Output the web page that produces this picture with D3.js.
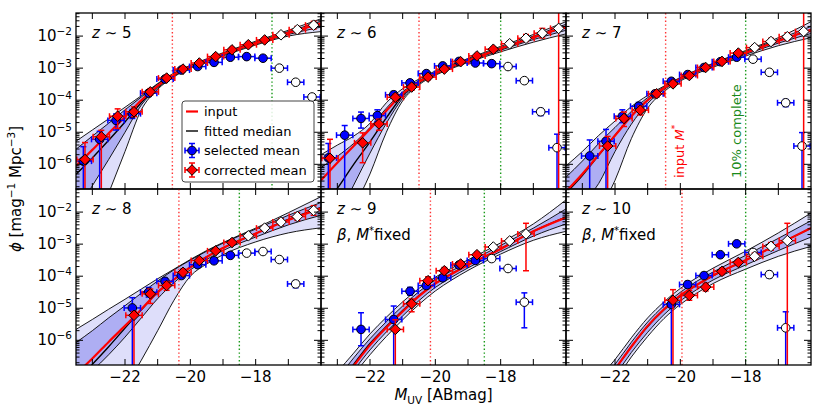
<!DOCTYPE html>
<html lang="en">
<head>
<meta charset="UTF-8">
<script src="https://d3js.org/d3.v7.min.js"></script>
<title>UV luminosity functions z~5-10</title>
<style>
  body { margin: 0; background: #fff; }
  svg text { font-family: "DejaVu Sans", sans-serif; }
</style>
</head>
<body>
<script>
// ---- data (log10 phi) ----
const zLabels = ["5", "6", "7", "8", "9", "10"];
const fixedNote = [false, false, false, false, true, true];
const inputMstar = [-20.55, -20.5, -20.45, -20.35, -20.15, -19.95];
const completeMag = [-17.5, -18, -18, -18.5, -18.5, -18];

const mGrid = [-23.5, -23, -22.5, -22, -21.5, -21, -20.5, -20, -19.5, -19, -18, -17, -16];

const inputLF = [
  [-6.05, -5.55, -5.03, -4.52, -4.0, -3.55, -3.2, -2.95, -2.75, -2.56, -2.22, -1.9, -1.6],
  [-6.5, -5.95, -5.43, -4.9, -4.33, -3.8, -3.43, -3.16, -2.95, -2.76, -2.39, -2.04, -1.7],
  [-6.85, -6.3, -5.7, -5.1, -4.5, -4.0, -3.62, -3.33, -3.1, -2.9, -2.52, -2.15, -1.8],
  [-7.05, -6.57, -6.05, -5.55, -5.03, -4.5, -4.1, -3.72, -3.4, -3.12, -2.67, -2.25, -1.88],
  [-8.2, -7.45, -6.8, -6.15, -5.6, -5.1, -4.62, -4.23, -3.93, -3.65, -3.15, -2.6, -2.17],
  [-8.9, -8.2, -7.55, -6.9, -6.2, -5.55, -5.03, -4.6, -4.27, -3.98, -3.5, -3.0, -2.5]
];
const medianLF = [
  [-6.31, -5.8, -5.25, -4.68, -4.07, -3.57, -3.21, -2.95, -2.75, -2.56, -2.22, -1.9, -1.62],
  [-7.4, -6.75, -6.0, -5.3, -4.55, -3.86, -3.44, -3.16, -2.95, -2.76, -2.4, -2.05, -1.72],
  [-6.9, -6.35, -5.72, -5.1, -4.5, -4.0, -3.62, -3.33, -3.1, -2.9, -2.52, -2.15, -1.8],
  [-7.3, -6.75, -6.2, -5.62, -5.05, -4.5, -4.1, -3.72, -3.4, -3.12, -2.67, -2.23, -1.85],
  [-8.1, -7.4, -6.75, -6.1, -5.57, -5.07, -4.6, -4.22, -3.92, -3.65, -3.14, -2.6, -2.15],
  [-8.9, -8.2, -7.55, -6.9, -6.2, -5.57, -5.05, -4.62, -4.28, -3.99, -3.5, -3.0, -2.5]
];
const hi1LF = [
  [-5.53, -5.12, -4.72, -4.3, -3.9, -3.5, -3.17, -2.93, -2.73, -2.54, -2.19, -1.86, -1.54],
  [-6.1, -5.75, -5.35, -4.85, -4.25, -3.74, -3.39, -3.13, -2.92, -2.73, -2.36, -2.0, -1.63],
  [-6.4, -5.9, -5.35, -4.85, -4.35, -3.92, -3.59, -3.31, -3.08, -2.87, -2.48, -2.1, -1.7],
  [-6.07, -5.7, -5.3, -4.92, -4.53, -4.15, -3.8, -3.5, -3.22, -2.97, -2.53, -2.1, -1.7],
  [-7.9, -7.2, -6.55, -5.95, -5.42, -4.93, -4.48, -4.12, -3.83, -3.57, -3.04, -2.5, -1.9],
  [-8.7, -8.0, -7.35, -6.75, -6.06, -5.43, -4.92, -4.5, -4.16, -3.87, -3.35, -2.82, -2.27]
];
const hi2LF = [
  [-5.28, -4.93, -4.58, -4.22, -3.86, -3.48, -3.15, -2.91, -2.71, -2.52, -2.16, -1.82, -1.46],
  [-5.7, -5.4, -5.12, -4.72, -4.08, -3.64, -3.34, -3.09, -2.89, -2.7, -2.32, -1.95, -1.55],
  [-6.05, -5.6, -5.1, -4.65, -4.2, -3.85, -3.56, -3.29, -3.06, -2.85, -2.45, -2.05, -1.55],
  [-5.66, -5.35, -5.03, -4.72, -4.4, -4.08, -3.78, -3.48, -3.2, -2.95, -2.5, -2.02, -1.52],
  [-7.7, -7.0, -6.4, -5.8, -5.28, -4.8, -4.38, -4.03, -3.75, -3.49, -2.96, -2.37, -1.62],
  [-8.5, -7.85, -7.2, -6.6, -5.92, -5.3, -4.8, -4.38, -4.05, -3.75, -3.22, -2.65, -2.03]
];
const lo1LF = [
  [-7.5, -6.67, -5.85, -5.0, -4.15, -3.62, -3.24, -2.98, -2.78, -2.59, -2.25, -1.95, -1.72],
  [-9.0, -7.7, -6.65, -5.65, -4.72, -3.94, -3.48, -3.19, -2.98, -2.79, -2.44, -2.11, -1.82],
  [-8.0, -7.25, -6.6, -5.6, -4.75, -4.1, -3.67, -3.36, -3.13, -2.93, -2.57, -2.22, -1.92],
  [-7.4, -6.95, -6.45, -5.9, -5.3, -4.7, -4.2, -3.8, -3.48, -3.2, -2.78, -2.4, -2.1],
  [-8.4, -7.7, -6.95, -6.3, -5.74, -5.24, -4.76, -4.35, -4.03, -3.74, -3.23, -2.75, -2.37],
  [-9.1, -8.4, -7.75, -7.1, -6.38, -5.75, -5.2, -4.77, -4.42, -4.12, -3.65, -3.2, -2.78]
];
const lo2LF = [
  [-9.45, -8.2, -6.9, -5.6, -4.3, -3.66, -3.27, -3.0, -2.8, -2.62, -2.28, -2.0, -1.86],
  [-10.0, -8.7, -7.4, -6.3, -5.0, -4.02, -3.52, -3.22, -3.01, -2.82, -2.49, -2.19, -1.93],
  [-9.5, -8.5, -7.5, -6.5, -5.2, -4.25, -3.73, -3.4, -3.17, -2.97, -2.62, -2.3, -2.05],
  [-11.0, -9.5, -8.4, -7.5, -6.62, -5.7, -4.75, -4.0, -3.62, -3.33, -2.93, -2.65, -2.49],
  [-8.7, -7.9, -7.1, -6.45, -5.88, -5.36, -4.88, -4.46, -4.12, -3.82, -3.31, -2.88, -2.6],
  [-9.3, -8.6, -7.9, -7.25, -6.52, -5.88, -5.32, -4.88, -4.53, -4.23, -3.78, -3.38, -3.07]
];

const binMag = [-23.25, -22.75, -22.25, -21.75, -21.25, -20.75, -20.25, -19.75,
                -19.25, -18.75, -18.25, -17.75, -17.25, -16.75, -16.25];

// selected mean (blue circles)
const selLF = [
  [-5.9, -5.22, -4.63, -4.42, -3.78, -3.34, -3.06, -2.95, -2.82, -2.66, -2.64, -2.69, -3.0, -3.44, -3.9],
  [-5.8, -5.09, -4.57, -4.48, -3.83, -3.46, -3.17, -2.93, -2.79, -2.84, -2.86, -2.95, -3.39, -4.36, -5.48],
  [null, -5.74, -5.28, -4.5, -4.19, -3.8, -3.41, -3.2, -2.98, -2.8, -2.66, -2.72, -3.13, -4.08, -5.43],
  [null, null, null, -4.99, -4.5, -4.16, -3.98, -3.64, -3.52, -3.35, -3.28, -3.23, -3.48, -4.24, null],
  [null, null, -5.66, null, -5.35, -4.47, -4.29, -4.05, -3.65, -3.51, -3.45, -3.76, -4.81, null, null],
  [null, null, null, null, null, null, -4.88, -4.26, -3.98, -3.33, -2.99, -3.26, -3.95, -5.61, null]
];
const selErrLo = [
  [9, 9, 0.3, 0.15, 0.1, 0.06, 0.05, 0.04, 0.04, 0.04, 0.04, 0.04, 0.05, 0.07, 0.09],
  [9, 9, 0.3, 0.18, 0.1, 0.07, 0.05, 0.05, 0.04, 0.04, 0.04, 0.05, 0.07, 0.12, 9],
  [0, 9, 9, 0.2, 0.12, 0.08, 0.06, 0.05, 0.04, 0.04, 0.04, 0.05, 0.07, 0.12, 9],
  [0, 0, 0, 9, 0.15, 0.1, 0.07, 0.06, 0.05, 0.05, 0.05, 0.05, 0.07, 0.12, 0],
  [0, 0, 0.51, 0, 9, 0.12, 0.1, 0.08, 0.07, 0.06, 0.06, 0.07, 0.8, 0, 0],
  [0, 0, 0, 0, 0, 0, 9, 0.1, 0.08, 0.06, 0.05, 0.07, 0.1, 9, 0]
];
const selErrHi = [
  [0.45, 0.25, 0.2, 0.13, 0.08, 0.06, 0.05, 0.04, 0.04, 0.04, 0.04, 0.04, 0.05, 0.06, 0.08],
  [0.45, 0.3, 0.2, 0.18, 0.1, 0.07, 0.05, 0.05, 0.04, 0.04, 0.04, 0.05, 0.06, 0.1, 0.42],
  [0, 0.5, 0.37, 0.2, 0.12, 0.08, 0.06, 0.05, 0.04, 0.04, 0.04, 0.05, 0.06, 0.1, 0.42],
  [0, 0, 0, 0.32, 0.15, 0.1, 0.07, 0.06, 0.05, 0.05, 0.05, 0.05, 0.06, 0.1, 0],
  [0, 0, 0.52, 0, 0.42, 0.12, 0.1, 0.08, 0.07, 0.06, 0.06, 0.07, 0.29, 0, 0],
  [0, 0, 0, 0, 0, 0, 0.12, 0.1, 0.08, 0.06, 0.05, 0.07, 0.1, 0.5, 0]
];

// corrected mean (red diamonds)
const corLF = [
  [-5.85, -5.14, -4.5, -4.36, -3.74, -3.31, -3.03, -2.84, -2.64, -2.43, -2.27, -2.12, -1.96, -1.8, -1.66],
  [-5.81, null, -5.33, -4.74, -3.91, -3.59, -3.28, -3.03, -2.8, -2.62, -2.41, -2.24, -2.07, -1.91, -1.76],
  [null, null, -5.43, -4.57, -4.31, -3.8, -3.49, -3.23, -2.98, -2.79, -2.53, -2.36, -2.17, -2.02, -1.86],
  [null, null, null, -5.22, -4.55, -4.29, -3.88, -3.51, -3.21, -2.95, -2.74, -2.5, -2.31, -2.14, -1.95],
  [null, null, null, null, -5.66, -4.86, -4.14, -3.83, -3.62, -3.33, -3.09, -2.9, -2.68, null, null],
  [null, null, null, null, null, null, -4.75, -4.6, -4.34, -3.85, -3.57, -3.38, -3.07, -2.89, null]
];
const corErrLo = [
  [9, 9, 0.38, 0.15, 0.1, 0.08, 0.07, 0.07, 0.07, 0.07, 0.07, 0.07, 0.08, 0.1, 0.12],
  [9, 0, 0.62, 0.2, 0.12, 0.1, 0.08, 0.07, 0.07, 0.07, 0.07, 0.08, 0.1, 0.15, 9],
  [0, 0, 9, 0.25, 0.15, 0.1, 0.08, 0.07, 0.07, 0.07, 0.07, 0.08, 0.1, 0.12, 9],
  [0, 0, 0, 9, 0.3, 0.15, 0.1, 0.08, 0.07, 0.07, 0.07, 0.08, 0.1, 0.12, 0.15],
  [0, 0, 0, 0, 9, 0.25, 0.12, 0.1, 0.08, 0.07, 0.07, 0.08, 1.15, 0, 0],
  [0, 0, 0, 0, 0, 0, 9, 0.15, 0.12, 0.1, 0.08, 0.1, 0.12, 9, 0]
];
const corErrHi = [
  [0.53, 0.2, 0.23, 0.15, 0.1, 0.08, 0.07, 0.07, 0.07, 0.07, 0.07, 0.07, 0.08, 0.1, 0.12],
  [0.59, 0, 0.31, 0.15, 0.1, 0.08, 0.07, 0.07, 0.07, 0.07, 0.07, 0.08, 0.12, 0.15, 0.5],
  [0, 0, 0.3, 0.2, 0.13, 0.1, 0.08, 0.07, 0.07, 0.07, 0.07, 0.08, 0.1, 0.12, 0.6],
  [0, 0, 0, 0.12, 0.15, 0.12, 0.1, 0.08, 0.07, 0.07, 0.07, 0.08, 0.1, 0.12, 0.15],
  [0, 0, 0, 0, 0.3, 0.15, 0.12, 0.1, 0.08, 0.07, 0.07, 0.08, 0.33, 0, 0],
  [0, 0, 0, 0, 0, 0, 0.33, 0.15, 0.12, 0.1, 0.08, 0.1, 0.12, 0.54, 0]
];

const xTickVals = [-23, -22, -21, -20, -19, -18, -17];
const xLabelVals = [-22, -20, -18];
const yLabelExps = [-2, -3, -4, -5, -6];

// ---- layout ----
const padLeft = 76, padTop = 13;
const pw = 245, ph = 176;
const binHalf = 0.25, dodge = 0.025;

const svg = d3.select("body").append("svg")
    .attr("width", 831)
    .attr("height", 412);

const x = d3.scaleLinear().domain([-23.5, -16]).range([0, pw]);
const y = d3.scaleLog().domain([Math.pow(10, -6.77), Math.pow(10, -1.28)]).range([ph, 0]);
const yl = v => y(Math.pow(10, v));

const lightBand = "#dedefa", darkBand = "#aeaef3";

function diamond(r) {
    return "M0," + (-r) + "L" + r + ",0L0," + r + "L" + (-r) + ",0Z";
}

zLabels.forEach(function(z, i) {
    const col = i % 3, row = Math.floor(i / 3);
    const g = svg.append("g")
        .attr("transform", "translate(" + (padLeft + col * pw) + "," + (padTop + row * ph) + ")");

    svg.append("clipPath").attr("id", "clip" + i)
        .append("rect").attr("width", pw).attr("height", ph);
    const c = g.append("g").attr("clip-path", "url(#clip" + i + ")");

    const band = (lo, hi) => d3.area()
        .x((d, k) => x(mGrid[k]))
        .y0((d, k) => yl(lo[k]))
        .y1((d, k) => yl(hi[k]))
        .curve(d3.curveMonotoneX);
    const line = arr => d3.line()
        .x((d, k) => x(mGrid[k]))
        .y((d, k) => yl(arr[k]))
        .curve(d3.curveMonotoneX);

    // bands
    c.append("path").datum(mGrid).attr("d", band(lo2LF[i], hi2LF[i])).attr("fill", lightBand);
    c.append("path").datum(mGrid).attr("d", band(lo1LF[i], hi1LF[i])).attr("fill", darkBand);
    [lo2LF[i], hi2LF[i], lo1LF[i], hi1LF[i]].forEach(function(arr) {
        c.append("path").datum(mGrid).attr("d", line(arr))
            .attr("fill", "none").attr("stroke", "#000").attr("stroke-width", 0.9);
    });
    c.append("path").datum(mGrid).attr("d", line(medianLF[i]))
        .attr("fill", "none").attr("stroke", "#000").attr("stroke-width", 1.4);
    c.append("path").datum(mGrid).attr("d", line(inputLF[i]))
        .attr("fill", "none").attr("stroke", "#ff0000").attr("stroke-width", 2.2);

    // M* and completeness
    c.append("line")
        .attr("x1", x(inputMstar[i])).attr("x2", x(inputMstar[i]))
        .attr("y1", 0).attr("y2", ph)
        .attr("stroke", "#ff3333").attr("stroke-width", 1.4).attr("stroke-dasharray", "1.4,2.4");
    c.append("line")
        .attr("x1", x(completeMag[i])).attr("x2", x(completeMag[i]))
        .attr("y1", 0).attr("y2", ph)
        .attr("stroke", "#1a9a1a").attr("stroke-width", 1.4).attr("stroke-dasharray", "1.4,2.4");

    // points with error bars
    function drawPoints(vals, eLo, eHi, off, color, isDiamond) {
        binMag.forEach(function(m, k) {
            const v = vals[k];
            if (v === null) return;
            const px = x(m + off), py = yl(v);
            const yTop = yl(v + eHi[k]), yBot = yl(v - eLo[k]);
            const xa = x(m + off - binHalf), xb = x(m + off + binHalf);
            const eb = c.append("g").attr("stroke", color).attr("stroke-width", 1.5);
            eb.append("line").attr("x1", px).attr("x2", px).attr("y1", yTop).attr("y2", yBot);
            eb.append("line").attr("x1", px - 3).attr("x2", px + 3).attr("y1", yTop).attr("y2", yTop);
            eb.append("line").attr("x1", px - 3).attr("x2", px + 3).attr("y1", yBot).attr("y2", yBot);
            eb.append("line").attr("x1", xa).attr("x2", xb).attr("y1", py).attr("y2", py);
            eb.append("line").attr("x1", xa).attr("x2", xa).attr("y1", py - 3).attr("y2", py + 3);
            eb.append("line").attr("x1", xb).attr("x2", xb).attr("y1", py - 3).attr("y2", py + 3);
            const open = m > completeMag[i];
            const fill = open ? "#fff" : color;
            if (isDiamond) {
                c.append("path").attr("d", diamond(5.3))
                    .attr("transform", "translate(" + px + "," + py + ")")
                    .attr("fill", fill).attr("stroke", "#000").attr("stroke-width", 1);
            } else {
                c.append("circle").attr("cx", px).attr("cy", py).attr("r", 4.3)
                    .attr("fill", fill).attr("stroke", "#000").attr("stroke-width", 1);
            }
        });
    }
    drawPoints(selLF[i], selErrLo[i], selErrHi[i], -dodge, "#0000ff", false);
    drawPoints(corLF[i], corErrLo[i], corErrHi[i], dodge, "#ff0000", true);

    // ticks
    const tk = g.append("g").attr("stroke", "#000").attr("stroke-width", 1);
    xTickVals.forEach(function(m) {
        tk.append("line").attr("x1", x(m)).attr("x2", x(m)).attr("y1", 0).attr("y2", 6);
        tk.append("line").attr("x1", x(m)).attr("x2", x(m)).attr("y1", ph).attr("y2", ph - 6);
    });
    y.ticks().forEach(function(t) {
        const lg = Math.log10(t);
        const major = Math.abs(lg - Math.round(lg)) < 1e-6;
        const len = major ? 7 : 3.5;
        tk.append("line").attr("x1", 0).attr("x2", len).attr("y1", y(t)).attr("y2", y(t));
        tk.append("line").attr("x1", pw).attr("x2", pw - len).attr("y1", y(t)).attr("y2", y(t));
    });
    g.append("rect").attr("width", pw).attr("height", ph)
        .attr("fill", "none").attr("stroke", "#000").attr("stroke-width", 1.3);

    // tick labels
    if (col === 0) {
        yLabelExps.forEach(function(e) {
            const t = g.append("text")
                .attr("x", -4).attr("y", yl(e) + 5)
                .attr("text-anchor", "end")
                .attr("font-size", 15);
            t.append("tspan").text("10");
            t.append("tspan").attr("dy", -6.5).attr("font-size", 10.5).text("\u2212" + Math.abs(e));
        });
    }
    if (row === 1) {
        xLabelVals.forEach(function(m) {
            g.append("text")
                .attr("x", x(m)).attr("y", ph + 17)
                .attr("text-anchor", "middle")
                .attr("font-size", 15)
                .text("\u2212" + Math.abs(m));
        });
    }

    // panel label
    const lab = g.append("text").attr("x", 16).attr("y", 25).attr("font-size", 15);
    lab.append("tspan").attr("font-style", "italic").text("z");
    lab.append("tspan").text(" \u223c " + z);
    if (fixedNote[i]) {
        const fx = g.append("text").attr("x", 16).attr("y", 51).attr("font-size", 15);
        fx.append("tspan").attr("font-style", "italic").text("\u03b2");
        fx.append("tspan").text(", ");
        fx.append("tspan").attr("font-style", "italic").text("M");
        fx.append("tspan").attr("dy", -6).attr("font-size", 10).text("*");
        fx.append("tspan").attr("dy", 6).text("fixed");
    }

    // vertical annotations (z~7 panel)
    if (i === 2) {
        const ax = x(inputMstar[i]) + 18, ay = ph - 11;
        const t1 = g.append("text")
            .attr("transform", "translate(" + ax + "," + ay + ") rotate(-90)")
            .attr("font-size", 13).attr("fill", "#ff0000");
        t1.append("tspan").text("input ");
        t1.append("tspan").attr("font-style", "italic").text("M");
        t1.append("tspan").attr("dy", -6).attr("font-size", 9).text("*");
        g.append("text")
            .attr("transform", "translate(" + (x(completeMag[i]) - 5) + "," + ay + ") rotate(-90)")
            .attr("font-size", 13).attr("fill", "#1a8a1a")
            .text("10% complete");
    }

    // legend in first panel
    if (i === 0) {
        const lg = g.append("g").attr("transform", "translate(106,88)");
        lg.append("rect").attr("width", 132).attr("height", 81).attr("rx", 3)
            .attr("fill", "#fff").attr("fill-opacity", 0.85)
            .attr("stroke", "#444").attr("stroke-width", 1);
        const rows = ["input", "fitted median", "selected mean", "corrected mean"];
        rows.forEach(function(r, k) {
            lg.append("text").attr("x", 22).attr("y", 15 + k * 19.5).attr("font-size", 13).text(r);
        });
        lg.append("line").attr("x1", 4).attr("x2", 16).attr("y1", 10.5).attr("y2", 10.5)
            .attr("stroke", "#ff0000").attr("stroke-width", 2.2);
        lg.append("line").attr("x1", 4).attr("x2", 16).attr("y1", 30).attr("y2", 30)
            .attr("stroke", "#000").attr("stroke-width", 1.4);
        [["#0000ff", 49.5, false], ["#ff0000", 69, true]].forEach(function(s) {
            const cx = 10, cy = s[1];
            const e = lg.append("g").attr("stroke", s[0]).attr("stroke-width", 1.5);
            e.append("line").attr("x1", cx - 7).attr("x2", cx + 7).attr("y1", cy).attr("y2", cy);
            e.append("line").attr("x1", cx - 7).attr("x2", cx - 7).attr("y1", cy - 3).attr("y2", cy + 3);
            e.append("line").attr("x1", cx + 7).attr("x2", cx + 7).attr("y1", cy - 3).attr("y2", cy + 3);
            e.append("line").attr("x1", cx).attr("x2", cx).attr("y1", cy - 7).attr("y2", cy + 7);
            e.append("line").attr("x1", cx - 3).attr("x2", cx + 3).attr("y1", cy - 7).attr("y2", cy - 7);
            e.append("line").attr("x1", cx - 3).attr("x2", cx + 3).attr("y1", cy + 7).attr("y2", cy + 7);
            if (s[2]) {
                lg.append("path").attr("d", diamond(5.3)).attr("transform", "translate(" + cx + "," + cy + ")")
                    .attr("fill", s[0]).attr("stroke", "#000");
            } else {
                lg.append("circle").attr("cx", cx).attr("cy", cy).attr("r", 4.3)
                    .attr("fill", s[0]).attr("stroke", "#000");
            }
        });
    }
});

// axis titles
const yt = svg.append("text")
    .attr("transform", "translate(21," + (padTop + ph) + ") rotate(-90)")
    .attr("text-anchor", "middle")
    .attr("font-size", 15);
yt.append("tspan").attr("font-style", "italic").text("\u03d5");
yt.append("tspan").text(" [mag");
yt.append("tspan").attr("dy", -6).attr("font-size", 10.5).text("\u22121");
yt.append("tspan").attr("dy", 6).text(" Mpc");
yt.append("tspan").attr("dy", -6).attr("font-size", 10.5).text("\u22123");
yt.append("tspan").attr("dy", 6).text("]");

const xt = svg.append("text")
    .attr("x", padLeft + 1.5 * pw).attr("y", 400)
    .attr("text-anchor", "middle")
    .attr("font-size", 15);
xt.append("tspan").attr("font-style", "italic").text("M");
xt.append("tspan").attr("dy", 4).attr("font-size", 10.5).text("UV");
xt.append("tspan").attr("dy", -4).text(" [ABmag]");
</script>
</body>
</html>
